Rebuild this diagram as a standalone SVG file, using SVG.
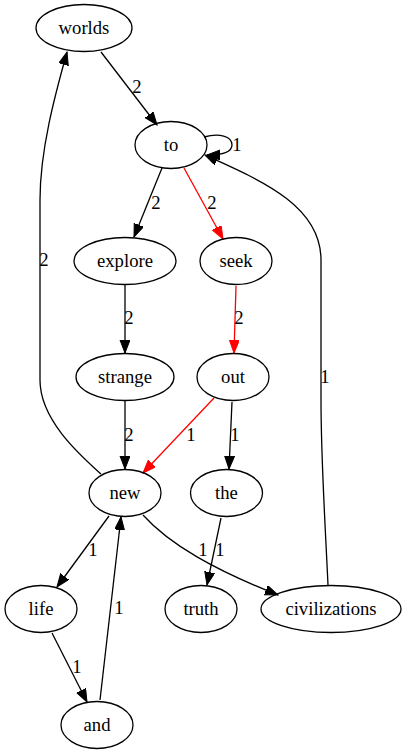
<svg xmlns="http://www.w3.org/2000/svg" width="408" height="755" viewBox="0 0 408 755">
<style>
.n ellipse{fill:none;stroke:#000;stroke-width:1.3}
text{font-family:"Times New Roman","Liberation Serif",Tinos,"DejaVu Serif",serif;font-size:18.67px;text-anchor:middle;fill:#000}
.e path{fill:none;stroke:#000;stroke-width:1.3}
.e path.r{stroke:#f00}
</style>
<defs>
<marker id="a" markerUnits="userSpaceOnUse" markerWidth="14" markerHeight="11" refX="13" refY="5" orient="auto"><path d="M0,0 L13,5 L0,10 z" fill="#000" stroke="#000" stroke-width="1"/></marker>
<marker id="ar" markerUnits="userSpaceOnUse" markerWidth="14" markerHeight="11" refX="13" refY="5" orient="auto"><path d="M0,0 L13,5 L0,10 z" fill="#f00" stroke="#f00" stroke-width="1"/></marker>
</defs>
<rect width="408" height="755" fill="#fff"/>
<g class="e" id="edges">
<path d="M101,52 L157,125" marker-end="url(#a)"/>
<path d="M204,137 C219,133 232,136 232,145 C232,152 224,155 207,155" marker-end="url(#a)"/>
<path d="M162,168 L134,237" marker-end="url(#a)"/>
<path class="r" d="M184,168 L223,239" marker-end="url(#ar)"/>
<path d="M125,285 L125,353" marker-end="url(#a)"/>
<path class="r" d="M236,286 L234,353" marker-end="url(#ar)"/>
<path d="M125,401 L125,469" marker-end="url(#a)"/>
<path class="r" d="M214,398 L143,473" marker-end="url(#ar)"/>
<path d="M232,402 L229,469" marker-end="url(#a)"/>
<path d="M101,474 C80,455 40,420 40,380 L40,200 C40,150 55,95 67,52" marker-end="url(#a)"/>
<path d="M109,516 L57,587" marker-end="url(#a)"/>
<path d="M143,515 C170,545 215,570 278,595" marker-end="url(#a)"/>
<path d="M221,518 L207,585" marker-end="url(#a)"/>
<path d="M328,585 C325,520 321,460 321,400 L321,260 C321,205 260,180 205,155" marker-end="url(#a)"/>
<path d="M52,633 L87,702" marker-end="url(#a)"/>
<path d="M100,700 L121,517" marker-end="url(#a)"/>
<text x="137" y="93">2</text>
<text x="237" y="151">1</text>
<text x="156" y="209">2</text>
<text x="212" y="209">2</text>
<text x="44" y="266">2</text>
<text x="129" y="324">2</text>
<text x="239" y="324">2</text>
<text x="325" y="383">1</text>
<text x="129" y="441">2</text>
<text x="191" y="441">1</text>
<text x="235" y="441">1</text>
<text x="93" y="556">1</text>
<text x="203" y="556">1</text>
<text x="220" y="556">1</text>
<text x="119" y="614">1</text>
<text x="77" y="673">1</text>
</g>
<g class="n" id="worlds"><ellipse cx="84" cy="28" rx="48" ry="23.5"/><text x="84" y="34">worlds</text></g>
<g class="n" id="to"><ellipse cx="171" cy="145" rx="36" ry="23.5"/><text x="171" y="151">to</text></g>
<g class="n" id="explore"><ellipse cx="125" cy="261" rx="51" ry="23.5"/><text x="125" y="267">explore</text></g>
<g class="n" id="seek"><ellipse cx="236" cy="261" rx="36" ry="23.5"/><text x="236" y="267">seek</text></g>
<g class="n" id="strange"><ellipse cx="125" cy="377" rx="49" ry="23.5"/><text x="125" y="383">strange</text></g>
<g class="n" id="out"><ellipse cx="233" cy="377" rx="36" ry="23.5"/><text x="233" y="383">out</text></g>
<g class="n" id="new"><ellipse cx="125" cy="493" rx="36" ry="23.5"/><text x="125" y="499">new</text></g>
<g class="n" id="the"><ellipse cx="226.5" cy="493" rx="36" ry="23.5"/><text x="226.5" y="499">the</text></g>
<g class="n" id="life"><ellipse cx="41" cy="609" rx="36" ry="23.5"/><text x="41" y="615">life</text></g>
<g class="n" id="truth"><ellipse cx="201" cy="609" rx="36" ry="23.5"/><text x="201" y="615">truth</text></g>
<g class="n" id="civilizations"><ellipse cx="331" cy="609" rx="70" ry="23.5"/><text x="331" y="615">civilizations</text></g>
<g class="n" id="and"><ellipse cx="97" cy="725" rx="36" ry="23.5"/><text x="97" y="731">and</text></g>
</svg>
